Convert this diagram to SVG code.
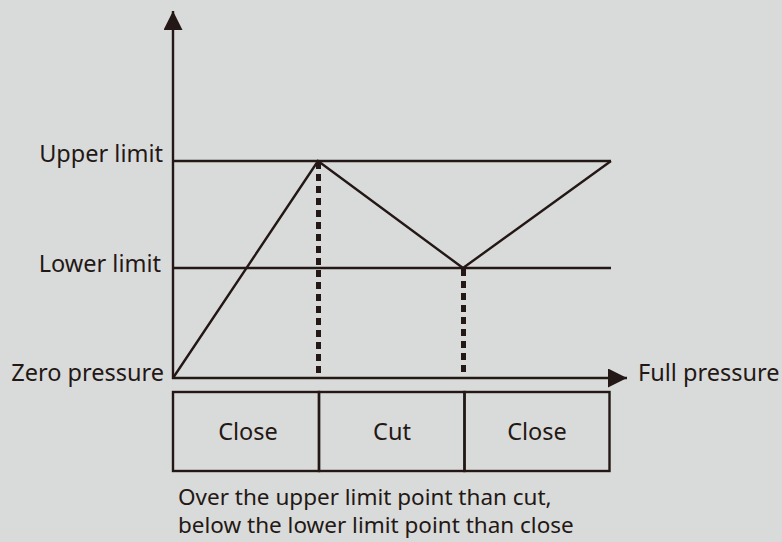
<svg xmlns="http://www.w3.org/2000/svg" width="782" height="542" viewBox="0 0 782 542">
<defs>
<style>
.ln{stroke:#231815;stroke-width:2.4;fill:none}
.dash{stroke:#231815;stroke-width:5;stroke-dasharray:7 5;fill:none}
.t{font-family:"Noto Sans","Open Sans",sans-serif;font-size:23.5px;fill:#231815}
.n{font-family:"Noto Sans","Open Sans",sans-serif;font-size:22.5px;fill:#231815}
</style>
<marker id="ah" viewBox="0 0 10 10" refX="10" refY="5" markerWidth="19" markerHeight="19" markerUnits="userSpaceOnUse" orient="auto">
<path d="M0,0 L10,5 L0,10 Z" fill="#231815"/>
</marker>
</defs>
<rect width="782" height="542" fill="#d9dbda"/>
<g id="connectors">
<line class="ln" x1="173" y1="379" x2="173" y2="11" marker-end="url(#ah)"/>
<line class="ln" x1="172" y1="378" x2="627" y2="378" marker-end="url(#ah)"/>
<line class="ln" x1="173" y1="161" x2="611" y2="161"/>
<line class="ln" x1="173" y1="268" x2="611" y2="268"/>
<polyline class="ln" points="173,378 318,161 463,268 611,161"/>
<line class="dash" x1="318.5" y1="162" x2="318.5" y2="376"/>
<line class="dash" x1="463.5" y1="269" x2="463.5" y2="376"/>
</g>
<g id="labels">
<text class="t" x="163" y="162" text-anchor="end">Upper limit</text>
<text class="t" x="161" y="272" text-anchor="end">Lower limit</text>
<text class="t" x="164" y="381" text-anchor="end">Zero pressure</text>
<text class="t" x="638" y="381">Full pressure</text>
</g>
<g id="box-close1">
<rect class="ln" x="173" y="392" width="146" height="79"/>
<text class="t" x="248" y="440" text-anchor="middle">Close</text>
</g>
<g id="box-cut">
<rect class="ln" x="319" y="392" width="145.5" height="79"/>
<text class="t" x="392" y="440" text-anchor="middle">Cut</text>
</g>
<g id="box-close2">
<rect class="ln" x="464.5" y="392" width="145" height="79"/>
<text class="t" x="537" y="440" text-anchor="middle">Close</text>
</g>
<g id="note">
<text class="n" x="178" y="505">Over the upper limit point than cut,</text>
<text class="n" x="178" y="533">below the lower limit point than close</text>
</g>
</svg>
